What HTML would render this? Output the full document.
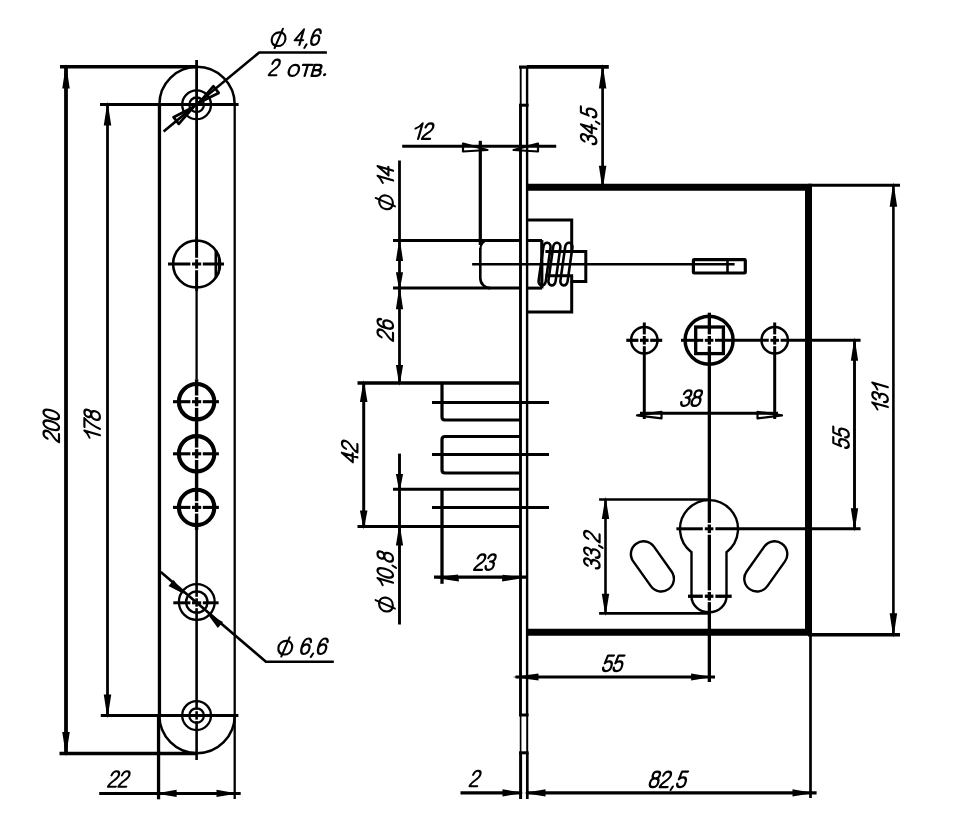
<!DOCTYPE html>
<html><head><meta charset="utf-8"><style>
html,body{margin:0;padding:0;background:#fff;}
svg{display:block;}
text{font-family:"Liberation Sans",sans-serif;fill:#000;stroke:none;}
</style></head><body>
<svg width="959" height="832" viewBox="0 0 959 832">
<rect x="0" y="0" width="959" height="832" fill="#fff"/>
<g stroke="#000" fill="none">
<line x1="159.45" y1="104.5" x2="159.45" y2="715.6" stroke-width="3.3" stroke-linecap="butt"/>
<line x1="158.55" y1="715.6" x2="158.55" y2="799.3" stroke-width="3.3" stroke-linecap="butt"/>
<line x1="234.7" y1="104.5" x2="234.7" y2="799" stroke-width="2.3" stroke-linecap="butt"/>
<path d="M159.4,104.5 A37.65,37.65 0 0 1 234.7,104.5" stroke-width="2.5" fill="none" />
<path d="M159.4,715.6 A37.65,37.65 0 0 0 234.7,715.6" stroke-width="2.5" fill="none" />
<line x1="196.6" y1="60" x2="196.6" y2="237" stroke-width="2.8" stroke-linecap="butt"/>
<line x1="196.6" y1="237" x2="196.6" y2="257.8" stroke-width="3" stroke-linecap="butt"/>
<line x1="196.6" y1="259.4" x2="196.6" y2="268.6" stroke-width="3" stroke-linecap="butt"/>
<line x1="196.6" y1="270.2" x2="196.6" y2="291" stroke-width="3" stroke-linecap="butt"/>
<line x1="196.6" y1="291" x2="196.6" y2="379.2" stroke-width="2.3" stroke-linecap="butt"/>
<line x1="196.6" y1="379.2" x2="196.6" y2="395.5" stroke-width="3.4" stroke-linecap="butt"/>
<line x1="196.6" y1="397.1" x2="196.6" y2="406.3" stroke-width="3.4" stroke-linecap="butt"/>
<line x1="196.6" y1="407.9" x2="196.6" y2="447.6" stroke-width="3.4" stroke-linecap="butt"/>
<line x1="196.6" y1="449.2" x2="196.6" y2="458.4" stroke-width="3.4" stroke-linecap="butt"/>
<line x1="196.6" y1="460.0" x2="196.6" y2="501.2" stroke-width="3.4" stroke-linecap="butt"/>
<line x1="196.6" y1="502.8" x2="196.6" y2="512.0" stroke-width="3.4" stroke-linecap="butt"/>
<line x1="196.6" y1="513.6" x2="196.6" y2="530" stroke-width="3.4" stroke-linecap="butt"/>
<line x1="196.6" y1="530" x2="196.6" y2="596.8" stroke-width="2.6" stroke-linecap="butt"/>
<line x1="196.6" y1="598.3" x2="196.6" y2="606.7" stroke-width="2.6" stroke-linecap="butt"/>
<line x1="196.6" y1="608.2" x2="196.6" y2="709.7" stroke-width="2.6" stroke-linecap="butt"/>
<line x1="196.6" y1="711.2" x2="196.6" y2="719.6" stroke-width="2.6" stroke-linecap="butt"/>
<line x1="196.6" y1="721.1" x2="196.6" y2="760" stroke-width="2.6" stroke-linecap="butt"/>
<line x1="60" y1="66.7" x2="198" y2="66.7" stroke-width="3.5" stroke-linecap="butt"/>
<line x1="59.5" y1="753.4" x2="196" y2="753.4" stroke-width="3.5" stroke-linecap="butt"/>
<line x1="66" y1="66.7" x2="66" y2="753.4" stroke-width="3.8" stroke-linecap="butt"/>
<path d="M66.00,64.00 L69.75,88.50 L62.25,88.50 Z" stroke="none" fill="#000"/>
<path d="M66.00,756.40 L62.25,731.90 L69.75,731.90 Z" stroke="none" fill="#000"/>
<line x1="100" y1="104.4" x2="238.6" y2="104.4" stroke-width="3" stroke-linecap="butt"/>
<line x1="100.8" y1="715.6" x2="238.4" y2="715.6" stroke-width="3" stroke-linecap="butt"/>
<line x1="107.5" y1="104.4" x2="107.5" y2="715.6" stroke-width="2.8" stroke-linecap="butt"/>
<path d="M107.50,101.40 L111.25,125.40 L103.75,125.40 Z" stroke="none" fill="#000"/>
<path d="M107.50,718.60 L103.75,694.60 L111.25,694.60 Z" stroke="none" fill="#000"/>
<circle cx="196.6" cy="104.8" r="14.4" stroke-width="2.3" fill="none"/>
<circle cx="196.6" cy="104.8" r="7.3" stroke-width="2.3" fill="none"/>
<circle cx="196.6" cy="715.6" r="14.4" stroke-width="2.3" fill="none"/>
<circle cx="196.6" cy="715.6" r="7.3" stroke-width="2.3" fill="none"/>
<circle cx="196.6" cy="264" r="23.5" stroke-width="2.6" fill="none"/>
<line x1="215.8" y1="250.5" x2="215.8" y2="277.5" stroke-width="2.6" stroke-linecap="butt"/>
<line x1="218.6" y1="254" x2="218.6" y2="274" stroke-width="1.6" stroke-linecap="butt"/>
<line x1="168" y1="264" x2="190.4" y2="264" stroke-width="3" stroke-linecap="butt"/>
<line x1="192.0" y1="264" x2="201.2" y2="264" stroke-width="3" stroke-linecap="butt"/>
<line x1="202.8" y1="264" x2="224" y2="264" stroke-width="3" stroke-linecap="butt"/>
<circle cx="196.6" cy="401.7" r="17.7" stroke-width="4.1" fill="none"/>
<line x1="173" y1="401.7" x2="190.4" y2="401.7" stroke-width="3.1" stroke-linecap="butt"/>
<line x1="192.0" y1="401.7" x2="201.2" y2="401.7" stroke-width="3.1" stroke-linecap="butt"/>
<line x1="202.8" y1="401.7" x2="218.9" y2="401.7" stroke-width="3.1" stroke-linecap="butt"/>
<circle cx="196.6" cy="453.8" r="17.7" stroke-width="4.1" fill="none"/>
<line x1="173" y1="453.8" x2="190.4" y2="453.8" stroke-width="3.1" stroke-linecap="butt"/>
<line x1="192.0" y1="453.8" x2="201.2" y2="453.8" stroke-width="3.1" stroke-linecap="butt"/>
<line x1="202.8" y1="453.8" x2="218.9" y2="453.8" stroke-width="3.1" stroke-linecap="butt"/>
<circle cx="196.6" cy="507.4" r="17.7" stroke-width="4.1" fill="none"/>
<line x1="173" y1="507.4" x2="190.4" y2="507.4" stroke-width="3.1" stroke-linecap="butt"/>
<line x1="192.0" y1="507.4" x2="201.2" y2="507.4" stroke-width="3.1" stroke-linecap="butt"/>
<line x1="202.8" y1="507.4" x2="218.9" y2="507.4" stroke-width="3.1" stroke-linecap="butt"/>
<circle cx="196.8" cy="602" r="17.9" stroke-width="2.3" fill="none"/>
<circle cx="196.8" cy="602" r="10.7" stroke-width="2.3" fill="none"/>
<line x1="173.3" y1="602.8" x2="190.4" y2="602.8" stroke-width="3" stroke-linecap="butt"/>
<line x1="192.0" y1="602.8" x2="201.2" y2="602.8" stroke-width="3" stroke-linecap="butt"/>
<line x1="202.8" y1="602.8" x2="218.6" y2="602.8" stroke-width="3" stroke-linecap="butt"/>
<path d="M163.6,131.6 L259.2,52.5 L326.9,52.5" stroke-width="2.6" fill="none" />
<path d="M199.50,102.50 L213.44,86.23 L218.67,92.94 Z" stroke-width="2.7" fill="none" stroke-linejoin="round"/>
<path d="M193.50,107.00 L178.77,123.88 L173.54,117.18 Z" stroke-width="2.7" fill="none" stroke-linejoin="round"/>
<path d="M160.8,571.9 L265.9,661.7 L333.8,661.7" stroke-width="2.6" fill="none" />
<path d="M184.00,594.00 L168.48,585.99 L173.68,579.91 Z" stroke="none" fill="#000"/>
<path d="M207.50,614.00 L223.02,622.01 L217.82,628.09 Z" stroke="none" fill="#000"/>
<line x1="99.2" y1="793.4" x2="240.7" y2="793.4" stroke-width="3" stroke-linecap="butt"/>
<path d="M155.60,793.40 L176.60,789.80 L176.60,797.00 Z" stroke="none" fill="#000"/>
<path d="M237.50,793.40 L216.50,797.00 L216.50,789.80 Z" stroke="none" fill="#000"/>
<g transform="translate(269.4,46.5) rotate(0) skewX(-16) scale(1.0,1.0)" stroke-width="2.150" stroke-linecap="round" stroke-linejoin="round" fill="none"><path transform="translate(7.05,-7.35) skewX(9) translate(-7.05,7.35)" d="M7.05,-14.2 C3.1,-14.2 0.2,-11.5 0.2,-7.35 C0.2,-3.2 3.1,-0.5 7.05,-0.5 C11,-0.5 13.9,-3.2 13.9,-7.35 C13.9,-11.5 11,-14.2 7.05,-14.2 Z"/><path transform="translate(0.00,0)" d="M8.4,-17.6 L5.7,1.5"/></g>
<g transform="translate(293.4,44.9) rotate(0) skewX(-16) scale(1.018,1.0)" stroke-width="2.150" stroke-linecap="round" stroke-linejoin="round" fill="none"><path transform="translate(0.00,0)" d="M5.9,0 L5.9,-15.5 L0,-4.7 L8.2,-4.7"/><path transform="translate(10.20,0)" d="M2.5,-0.5 L1.4,2.9"/><path transform="translate(15.80,0)" d="M7.59,-11.8C7.14,-14.4,5.79,-15.5,4.26,-15.5C1.47,-15.5,0.3,-12,0.3,-7.4C0.3,-2.5,1.74,0,4.17,0C6.51,0,7.95,-2,7.95,-4.9C7.95,-7.8,6.33,-9.7,4.26,-9.7C2.28,-9.7,0.75,-8.2,0.39,-5.8"/></g>
<g transform="translate(268.5,75.2) rotate(0) skewX(-16) scale(1.0,1.0)" stroke-width="2.150" stroke-linecap="round" stroke-linejoin="round" fill="none"><path transform="translate(0.00,0)" d="M0.57,-11.4C1.02,-14.4,2.55,-15.5,4.17,-15.5C6.24,-15.5,7.68,-14,7.68,-11.5C7.68,-9,6.06,-7.6,4.17,-6C2.1,-4.2,0.48,-2.4,0.3,0L7.86,0"/></g>
<g transform="translate(287.4,75.9) rotate(0) skewX(-16) scale(1.078,1.0)" stroke-width="2.150" stroke-linecap="round" stroke-linejoin="round" fill="none"><path transform="translate(0.00,0)" d="M4.5,-11 C1.4,-11 0,-8.2 0,-5.5 C0,-2.8 1.4,0 4.5,0 C7.6,0 9,-2.8 9,-5.5 C9,-8.2 7.6,-11 4.5,-11 Z"/><path transform="translate(11.60,0)" d="M0,-11 L8.8,-11 M4.4,-11 L4.4,0"/><path transform="translate(22.00,0)" d="M0.4,0 L0.4,-11 L4.2,-11 C6.2,-11 7.2,-10 7.2,-8.3 C7.2,-6.6 6,-5.8 4.2,-5.8 L0.4,-5.8 M4.2,-5.8 C6.6,-5.8 7.8,-4.6 7.8,-2.9 C7.8,-1 6.6,0 4.4,0 L0.4,0"/><circle cx="34.20" cy="-1.1" r="1.45" fill="#000" stroke="none"/></g>
<g transform="translate(276.1,655.0) rotate(0) skewX(-16) scale(1.0,1.0)" stroke-width="2.150" stroke-linecap="round" stroke-linejoin="round" fill="none"><path transform="translate(7.05,-7.35) skewX(9) translate(-7.05,7.35)" d="M7.05,-14.2 C3.1,-14.2 0.2,-11.5 0.2,-7.35 C0.2,-3.2 3.1,-0.5 7.05,-0.5 C11,-0.5 13.9,-3.2 13.9,-7.35 C13.9,-11.5 11,-14.2 7.05,-14.2 Z"/><path transform="translate(0.00,0)" d="M8.4,-17.6 L5.7,1.5"/></g>
<g transform="translate(299.5,654.0) rotate(0) skewX(-16) scale(1.056,1.0)" stroke-width="2.150" stroke-linecap="round" stroke-linejoin="round" fill="none"><path transform="translate(0.00,0)" d="M7.59,-11.8C7.14,-14.4,5.79,-15.5,4.26,-15.5C1.47,-15.5,0.3,-12,0.3,-7.4C0.3,-2.5,1.74,0,4.17,0C6.51,0,7.95,-2,7.95,-4.9C7.95,-7.8,6.33,-9.7,4.26,-9.7C2.28,-9.7,0.75,-8.2,0.39,-5.8"/><path transform="translate(10.20,0)" d="M2.5,-0.5 L1.4,2.9"/><path transform="translate(15.80,0)" d="M7.59,-11.8C7.14,-14.4,5.79,-15.5,4.26,-15.5C1.47,-15.5,0.3,-12,0.3,-7.4C0.3,-2.5,1.74,0,4.17,0C6.51,0,7.95,-2,7.95,-4.9C7.95,-7.8,6.33,-9.7,4.26,-9.7C2.28,-9.7,0.75,-8.2,0.39,-5.8"/></g>
<g transform="translate(107.7,786.7) rotate(0) skewX(-16) scale(1.021,1.0)" stroke-width="2.150" stroke-linecap="round" stroke-linejoin="round" fill="none"><path transform="translate(0.00,0)" d="M0.57,-11.4C1.02,-14.4,2.55,-15.5,4.17,-15.5C6.24,-15.5,7.68,-14,7.68,-11.5C7.68,-9,6.06,-7.6,4.17,-6C2.1,-4.2,0.48,-2.4,0.3,0L7.86,0"/><path transform="translate(10.20,0)" d="M0.57,-11.4C1.02,-14.4,2.55,-15.5,4.17,-15.5C6.24,-15.5,7.68,-14,7.68,-11.5C7.68,-9,6.06,-7.6,4.17,-6C2.1,-4.2,0.48,-2.4,0.3,0L7.86,0"/></g>
<g transform="translate(412.2,138.9) rotate(0) skewX(-16) scale(1.053,1.0)" stroke-width="2.150" stroke-linecap="round" stroke-linejoin="round" fill="none"><path transform="translate(0.00,0)" d="M5.6,0 L5.6,-15.5 C4.6,-13.2 2.6,-11.4 0.4,-10.4"/><path transform="translate(9.00,0)" d="M0.57,-11.4C1.02,-14.4,2.55,-15.5,4.17,-15.5C6.24,-15.5,7.68,-14,7.68,-11.5C7.68,-9,6.06,-7.6,4.17,-6C2.1,-4.2,0.48,-2.4,0.3,0L7.86,0"/></g>
<g transform="translate(473.8,569.9) rotate(0) skewX(-16) scale(1.03,1.0)" stroke-width="2.150" stroke-linecap="round" stroke-linejoin="round" fill="none"><path transform="translate(0.00,0)" d="M0.57,-11.4C1.02,-14.4,2.55,-15.5,4.17,-15.5C6.24,-15.5,7.68,-14,7.68,-11.5C7.68,-9,6.06,-7.6,4.17,-6C2.1,-4.2,0.48,-2.4,0.3,0L7.86,0"/><path transform="translate(10.20,0)" d="M0.66,-11.8C1.11,-14.5,2.46,-15.5,4.08,-15.5C6.06,-15.5,7.41,-14.2,7.41,-12C7.41,-9.6,5.7,-8.4,3.27,-8.4C6.06,-8.4,7.86,-6.8,7.86,-4.3C7.86,-1.4,6.06,0,3.99,0C1.92,0,0.57,-1.3,0.3,-3.8"/></g>
<g transform="translate(679.9,405.9) rotate(0) skewX(-16) scale(1.055,1.0)" stroke-width="2.150" stroke-linecap="round" stroke-linejoin="round" fill="none"><path transform="translate(0.00,0)" d="M0.66,-11.8C1.11,-14.5,2.46,-15.5,4.08,-15.5C6.06,-15.5,7.41,-14.2,7.41,-12C7.41,-9.6,5.7,-8.4,3.27,-8.4C6.06,-8.4,7.86,-6.8,7.86,-4.3C7.86,-1.4,6.06,0,3.99,0C1.92,0,0.57,-1.3,0.3,-3.8"/><path transform="translate(10.20,0)" d="M3.9,-8.7 C1.9,-8.7 0.6,-10 0.6,-12.1 C0.6,-14.2 2.1,-15.5 3.9,-15.5 C5.7,-15.5 7.2,-14.2 7.2,-12.1 C7.2,-10 5.9,-8.7 3.9,-8.7 C1.5,-8.7 0,-7 0,-4.4 C0,-1.6 1.7,0 3.9,0 C6.1,0 7.8,-1.6 7.8,-4.4 C7.8,-7 6.3,-8.7 3.9,-8.7 Z"/></g>
<g transform="translate(601.8,671.1) rotate(0) skewX(-16) scale(1.035,1.0)" stroke-width="2.150" stroke-linecap="round" stroke-linejoin="round" fill="none"><path transform="translate(0.00,0)" d="M7.41,-15.5L1.65,-15.5L0.75,-7.8C1.65,-9.1,2.91,-9.7,4.26,-9.7C6.51,-9.7,7.95,-7.7,7.95,-4.9C7.95,-1.8,6.24,0,4.08,0C2.01,0,0.66,-1.3,0.3,-3.6"/><path transform="translate(10.20,0)" d="M7.41,-15.5L1.65,-15.5L0.75,-7.8C1.65,-9.1,2.91,-9.7,4.26,-9.7C6.51,-9.7,7.95,-7.7,7.95,-4.9C7.95,-1.8,6.24,0,4.08,0C2.01,0,0.66,-1.3,0.3,-3.6"/></g>
<g transform="translate(648.8,787.1) rotate(0) skewX(-16) scale(1.041,1.0)" stroke-width="2.150" stroke-linecap="round" stroke-linejoin="round" fill="none"><path transform="translate(0.00,0)" d="M3.9,-8.7 C1.9,-8.7 0.6,-10 0.6,-12.1 C0.6,-14.2 2.1,-15.5 3.9,-15.5 C5.7,-15.5 7.2,-14.2 7.2,-12.1 C7.2,-10 5.9,-8.7 3.9,-8.7 C1.5,-8.7 0,-7 0,-4.4 C0,-1.6 1.7,0 3.9,0 C6.1,0 7.8,-1.6 7.8,-4.4 C7.8,-7 6.3,-8.7 3.9,-8.7 Z"/><path transform="translate(10.20,0)" d="M0.57,-11.4C1.02,-14.4,2.55,-15.5,4.17,-15.5C6.24,-15.5,7.68,-14,7.68,-11.5C7.68,-9,6.06,-7.6,4.17,-6C2.1,-4.2,0.48,-2.4,0.3,0L7.86,0"/><path transform="translate(20.40,0)" d="M2.5,-0.5 L1.4,2.9"/><path transform="translate(26.00,0)" d="M7.41,-15.5L1.65,-15.5L0.75,-7.8C1.65,-9.1,2.91,-9.7,4.26,-9.7C6.51,-9.7,7.95,-7.7,7.95,-4.9C7.95,-1.8,6.24,0,4.08,0C2.01,0,0.66,-1.3,0.3,-3.6"/></g>
<g transform="translate(469.3,786.2) rotate(0) skewX(-16) scale(1.0,1.0)" stroke-width="2.150" stroke-linecap="round" stroke-linejoin="round" fill="none"><path transform="translate(0.00,0)" d="M0.57,-11.4C1.02,-14.4,2.55,-15.5,4.17,-15.5C6.24,-15.5,7.68,-14,7.68,-11.5C7.68,-9,6.06,-7.6,4.17,-6C2.1,-4.2,0.48,-2.4,0.3,0L7.86,0"/></g>
<g transform="translate(59.0,442.5) rotate(-90) skewX(-16) scale(1.067,1.0)" stroke-width="2.150" stroke-linecap="round" stroke-linejoin="round" fill="none"><path transform="translate(0.00,0)" d="M0.57,-11.4C1.02,-14.4,2.55,-15.5,4.17,-15.5C6.24,-15.5,7.68,-14,7.68,-11.5C7.68,-9,6.06,-7.6,4.17,-6C2.1,-4.2,0.48,-2.4,0.3,0L7.86,0"/><path transform="translate(10.20,0)" d="M3.8,-15.5 C0.7,-15.5 0,-10.5 0,-7.75 C0,-5 0.7,0 3.8,0 C6.9,0 7.6,-5 7.6,-7.75 C7.6,-10.5 6.9,-15.5 3.8,-15.5 Z"/><path transform="translate(20.40,0)" d="M3.8,-15.5 C0.7,-15.5 0,-10.5 0,-7.75 C0,-5 0.7,0 3.8,0 C6.9,0 7.6,-5 7.6,-7.75 C7.6,-10.5 6.9,-15.5 3.8,-15.5 Z"/></g>
<g transform="translate(99.9,441.0) rotate(-90) skewX(-16) scale(1.048,1.0)" stroke-width="2.150" stroke-linecap="round" stroke-linejoin="round" fill="none"><path transform="translate(0.00,0)" d="M5.6,0 L5.6,-15.5 C4.6,-13.2 2.6,-11.4 0.4,-10.4"/><path transform="translate(9.00,0)" d="M0.2,-15.5 L8.6,-15.5 C5.4,-11.2 3.4,-5.8 2.6,0"/><path transform="translate(19.20,0)" d="M3.9,-8.7 C1.9,-8.7 0.6,-10 0.6,-12.1 C0.6,-14.2 2.1,-15.5 3.9,-15.5 C5.7,-15.5 7.2,-14.2 7.2,-12.1 C7.2,-10 5.9,-8.7 3.9,-8.7 C1.5,-8.7 0,-7 0,-4.4 C0,-1.6 1.7,0 3.9,0 C6.1,0 7.8,-1.6 7.8,-4.4 C7.8,-7 6.3,-8.7 3.9,-8.7 Z"/></g>
<g transform="translate(393.1,186.2) rotate(-90) skewX(-16) scale(1.044,1.0)" stroke-width="2.150" stroke-linecap="round" stroke-linejoin="round" fill="none"><path transform="translate(0.00,0)" d="M5.6,0 L5.6,-15.5 C4.6,-13.2 2.6,-11.4 0.4,-10.4"/><path transform="translate(9.00,0)" d="M5.9,0 L5.9,-15.5 L0,-4.7 L8.2,-4.7"/></g>
<g transform="translate(393.4,211.5) rotate(-90) skewX(-16) scale(1.0,1.0)" stroke-width="2.150" stroke-linecap="round" stroke-linejoin="round" fill="none"><path transform="translate(7.05,-7.35) skewX(9) translate(-7.05,7.35)" d="M7.05,-14.2 C3.1,-14.2 0.2,-11.5 0.2,-7.35 C0.2,-3.2 3.1,-0.5 7.05,-0.5 C11,-0.5 13.9,-3.2 13.9,-7.35 C13.9,-11.5 11,-14.2 7.05,-14.2 Z"/><path transform="translate(0.00,0)" d="M8.4,-17.6 L5.7,1.5"/></g>
<g transform="translate(393.0,341.1) rotate(-90) skewX(-16) scale(1.048,1.0)" stroke-width="2.150" stroke-linecap="round" stroke-linejoin="round" fill="none"><path transform="translate(0.00,0)" d="M0.57,-11.4C1.02,-14.4,2.55,-15.5,4.17,-15.5C6.24,-15.5,7.68,-14,7.68,-11.5C7.68,-9,6.06,-7.6,4.17,-6C2.1,-4.2,0.48,-2.4,0.3,0L7.86,0"/><path transform="translate(10.20,0)" d="M7.59,-11.8C7.14,-14.4,5.79,-15.5,4.26,-15.5C1.47,-15.5,0.3,-12,0.3,-7.4C0.3,-2.5,1.74,0,4.17,0C6.51,0,7.95,-2,7.95,-4.9C7.95,-7.8,6.33,-9.7,4.26,-9.7C2.28,-9.7,0.75,-8.2,0.39,-5.8"/></g>
<g transform="translate(357.4,463.6) rotate(-90) skewX(-16) scale(1.077,1.0)" stroke-width="2.150" stroke-linecap="round" stroke-linejoin="round" fill="none"><path transform="translate(0.00,0)" d="M5.9,0 L5.9,-15.5 L0,-4.7 L8.2,-4.7"/><path transform="translate(10.20,0)" d="M0.57,-11.4C1.02,-14.4,2.55,-15.5,4.17,-15.5C6.24,-15.5,7.68,-14,7.68,-11.5C7.68,-9,6.06,-7.6,4.17,-6C2.1,-4.2,0.48,-2.4,0.3,0L7.86,0"/></g>
<g transform="translate(393.0,588.4) rotate(-90) skewX(-16) scale(1.043,1.0)" stroke-width="2.150" stroke-linecap="round" stroke-linejoin="round" fill="none"><path transform="translate(0.00,0)" d="M5.6,0 L5.6,-15.5 C4.6,-13.2 2.6,-11.4 0.4,-10.4"/><path transform="translate(9.00,0)" d="M3.8,-15.5 C0.7,-15.5 0,-10.5 0,-7.75 C0,-5 0.7,0 3.8,0 C6.9,0 7.6,-5 7.6,-7.75 C7.6,-10.5 6.9,-15.5 3.8,-15.5 Z"/><path transform="translate(19.20,0)" d="M2.5,-0.5 L1.4,2.9"/><path transform="translate(24.80,0)" d="M3.9,-8.7 C1.9,-8.7 0.6,-10 0.6,-12.1 C0.6,-14.2 2.1,-15.5 3.9,-15.5 C5.7,-15.5 7.2,-14.2 7.2,-12.1 C7.2,-10 5.9,-8.7 3.9,-8.7 C1.5,-8.7 0,-7 0,-4.4 C0,-1.6 1.7,0 3.9,0 C6.1,0 7.8,-1.6 7.8,-4.4 C7.8,-7 6.3,-8.7 3.9,-8.7 Z"/></g>
<g transform="translate(393.3,613.7) rotate(-90) skewX(-16) scale(1.0,1.0)" stroke-width="2.150" stroke-linecap="round" stroke-linejoin="round" fill="none"><path transform="translate(7.05,-7.35) skewX(9) translate(-7.05,7.35)" d="M7.05,-14.2 C3.1,-14.2 0.2,-11.5 0.2,-7.35 C0.2,-3.2 3.1,-0.5 7.05,-0.5 C11,-0.5 13.9,-3.2 13.9,-7.35 C13.9,-11.5 11,-14.2 7.05,-14.2 Z"/><path transform="translate(0.00,0)" d="M8.4,-17.6 L5.7,1.5"/></g>
<g transform="translate(596.4,145.4) rotate(-90) skewX(-16) scale(1.033,1.0)" stroke-width="2.150" stroke-linecap="round" stroke-linejoin="round" fill="none"><path transform="translate(0.00,0)" d="M0.66,-11.8C1.11,-14.5,2.46,-15.5,4.08,-15.5C6.06,-15.5,7.41,-14.2,7.41,-12C7.41,-9.6,5.7,-8.4,3.27,-8.4C6.06,-8.4,7.86,-6.8,7.86,-4.3C7.86,-1.4,6.06,0,3.99,0C1.92,0,0.57,-1.3,0.3,-3.8"/><path transform="translate(10.20,0)" d="M5.9,0 L5.9,-15.5 L0,-4.7 L8.2,-4.7"/><path transform="translate(20.40,0)" d="M2.5,-0.5 L1.4,2.9"/><path transform="translate(26.00,0)" d="M7.41,-15.5L1.65,-15.5L0.75,-7.8C1.65,-9.1,2.91,-9.7,4.26,-9.7C6.51,-9.7,7.95,-7.7,7.95,-4.9C7.95,-1.8,6.24,0,4.08,0C2.01,0,0.66,-1.3,0.3,-3.6"/></g>
<g transform="translate(599.6,569.7) rotate(-90) skewX(-16) scale(1.042,1.0)" stroke-width="2.150" stroke-linecap="round" stroke-linejoin="round" fill="none"><path transform="translate(0.00,0)" d="M0.66,-11.8C1.11,-14.5,2.46,-15.5,4.08,-15.5C6.06,-15.5,7.41,-14.2,7.41,-12C7.41,-9.6,5.7,-8.4,3.27,-8.4C6.06,-8.4,7.86,-6.8,7.86,-4.3C7.86,-1.4,6.06,0,3.99,0C1.92,0,0.57,-1.3,0.3,-3.8"/><path transform="translate(10.20,0)" d="M0.66,-11.8C1.11,-14.5,2.46,-15.5,4.08,-15.5C6.06,-15.5,7.41,-14.2,7.41,-12C7.41,-9.6,5.7,-8.4,3.27,-8.4C6.06,-8.4,7.86,-6.8,7.86,-4.3C7.86,-1.4,6.06,0,3.99,0C1.92,0,0.57,-1.3,0.3,-3.8"/><path transform="translate(20.40,0)" d="M2.5,-0.5 L1.4,2.9"/><path transform="translate(26.00,0)" d="M0.57,-11.4C1.02,-14.4,2.55,-15.5,4.17,-15.5C6.24,-15.5,7.68,-14,7.68,-11.5C7.68,-9,6.06,-7.6,4.17,-6C2.1,-4.2,0.48,-2.4,0.3,0L7.86,0"/></g>
<g transform="translate(848.8,449.1) rotate(-90) skewX(-16) scale(1.026,1.0)" stroke-width="2.150" stroke-linecap="round" stroke-linejoin="round" fill="none"><path transform="translate(0.00,0)" d="M7.41,-15.5L1.65,-15.5L0.75,-7.8C1.65,-9.1,2.91,-9.7,4.26,-9.7C6.51,-9.7,7.95,-7.7,7.95,-4.9C7.95,-1.8,6.24,0,4.08,0C2.01,0,0.66,-1.3,0.3,-3.6"/><path transform="translate(10.20,0)" d="M7.41,-15.5L1.65,-15.5L0.75,-7.8C1.65,-9.1,2.91,-9.7,4.26,-9.7C6.51,-9.7,7.95,-7.7,7.95,-4.9C7.95,-1.8,6.24,0,4.08,0C2.01,0,0.66,-1.3,0.3,-3.6"/></g>
<g transform="translate(887.8,412.8) rotate(-90) skewX(-16) scale(1.039,1.0)" stroke-width="2.150" stroke-linecap="round" stroke-linejoin="round" fill="none"><path transform="translate(0.00,0)" d="M5.6,0 L5.6,-15.5 C4.6,-13.2 2.6,-11.4 0.4,-10.4"/><path transform="translate(9.00,0)" d="M0.66,-11.8C1.11,-14.5,2.46,-15.5,4.08,-15.5C6.06,-15.5,7.41,-14.2,7.41,-12C7.41,-9.6,5.7,-8.4,3.27,-8.4C6.06,-8.4,7.86,-6.8,7.86,-4.3C7.86,-1.4,6.06,0,3.99,0C1.92,0,0.57,-1.3,0.3,-3.8"/><path transform="translate(19.20,0)" d="M5.6,0 L5.6,-15.5 C4.6,-13.2 2.6,-11.4 0.4,-10.4"/></g>
<line x1="520.5" y1="105.2" x2="520.5" y2="715" stroke-width="2.9" stroke-linecap="butt"/>
<line x1="520.6" y1="752.8" x2="520.6" y2="799" stroke-width="3" stroke-linecap="butt"/>
<line x1="520.7" y1="66.8" x2="520.7" y2="105.2" stroke-width="1.9" stroke-linecap="butt"/>
<line x1="520.6" y1="715" x2="520.6" y2="752.8" stroke-width="1.7" stroke-linecap="butt"/>
<line x1="527.1" y1="66.8" x2="527.1" y2="715" stroke-width="2.4" stroke-linecap="butt"/>
<line x1="527.2" y1="715" x2="527.2" y2="752.8" stroke-width="2" stroke-linecap="butt"/>
<line x1="527.3" y1="752.8" x2="527.3" y2="799" stroke-width="2.7" stroke-linecap="butt"/>
<line x1="519" y1="67.1" x2="527.5" y2="67.1" stroke-width="3.2" stroke-linecap="butt"/>
<line x1="527" y1="66.8" x2="608.8" y2="66.8" stroke-width="3.8" stroke-linecap="butt"/>
<line x1="519" y1="105.2" x2="528.6" y2="105.2" stroke-width="3" stroke-linecap="butt"/>
<line x1="519" y1="715" x2="528.6" y2="715" stroke-width="3" stroke-linecap="butt"/>
<line x1="519" y1="752.8" x2="528.6" y2="752.8" stroke-width="3" stroke-linecap="butt"/>
<path d="M527,187.3 L808.5,187.3 L808.5,632.3 L527,632.3" stroke-width="7" fill="none" stroke-linejoin="miter"/>
<line x1="602.6" y1="67" x2="602.6" y2="187.3" stroke-width="2.7" stroke-linecap="butt"/>
<path d="M602.60,64.00 L606.35,88.50 L598.85,88.50 Z" stroke="none" fill="#000"/>
<path d="M602.60,190.30 L598.85,165.80 L606.35,165.80 Z" stroke="none" fill="#000"/>
<line x1="808" y1="185.2" x2="900" y2="185.2" stroke-width="3" stroke-linecap="butt"/>
<line x1="808" y1="634.8" x2="900" y2="634.8" stroke-width="3.5" stroke-linecap="butt"/>
<line x1="893.4" y1="185.3" x2="893.4" y2="634.8" stroke-width="2.6" stroke-linecap="butt"/>
<path d="M893.40,182.30 L897.15,206.80 L889.65,206.80 Z" stroke="none" fill="#000"/>
<path d="M893.40,637.80 L889.65,613.30 L897.15,613.30 Z" stroke="none" fill="#000"/>
<line x1="854.5" y1="340.3" x2="854.5" y2="528.8" stroke-width="2.9" stroke-linecap="butt"/>
<path d="M854.50,337.30 L858.15,360.80 L850.85,360.80 Z" stroke="none" fill="#000"/>
<path d="M854.50,531.80 L850.85,508.30 L858.15,508.30 Z" stroke="none" fill="#000"/>
<line x1="810.5" y1="632" x2="810.5" y2="798" stroke-width="2.7" stroke-linecap="butt"/>
<line x1="527" y1="792.9" x2="816.6" y2="792.9" stroke-width="3.2" stroke-linecap="butt"/>
<path d="M524.00,792.90 L545.50,789.25 L545.50,796.55 Z" stroke="none" fill="#000"/>
<path d="M813.50,792.90 L792.50,796.55 L792.50,789.25 Z" stroke="none" fill="#000"/>
<line x1="460.5" y1="792.9" x2="520.5" y2="792.9" stroke-width="3.2" stroke-linecap="butt"/>
<path d="M523.50,792.90 L502.50,796.55 L502.50,789.25 Z" stroke="none" fill="#000"/>
<line x1="709.35" y1="312.7" x2="709.35" y2="334.4" stroke-width="3.3" stroke-linecap="butt"/>
<line x1="709.35" y1="336.0" x2="709.35" y2="344.6" stroke-width="3.3" stroke-linecap="butt"/>
<line x1="709.35" y1="346.2" x2="709.35" y2="522.9" stroke-width="3.3" stroke-linecap="butt"/>
<line x1="709.35" y1="524.5" x2="709.35" y2="533.1" stroke-width="3.3" stroke-linecap="butt"/>
<line x1="709.35" y1="534.7" x2="709.35" y2="590.35" stroke-width="3.3" stroke-linecap="butt"/>
<line x1="709.35" y1="591.95" x2="709.35" y2="600.55" stroke-width="3.3" stroke-linecap="butt"/>
<line x1="709.35" y1="602.15" x2="709.35" y2="682" stroke-width="3.3" stroke-linecap="butt"/>
<line x1="515.5" y1="677" x2="715" y2="677" stroke-width="3.2" stroke-linecap="butt"/>
<path d="M512.50,677.00 L538.50,673.60 L538.50,680.40 Z" stroke="none" fill="#000"/>
<path d="M712.10,677.00 L691.10,680.60 L691.10,673.40 Z" stroke="none" fill="#000"/>
<line x1="402.2" y1="146.3" x2="556.2" y2="146.3" stroke-width="3" stroke-linecap="butt"/>
<path d="M463,143.5 L487.5,150 L463,151.5 Z" stroke-width="2.2" fill="none" stroke-linejoin="round"/>
<path d="M538,143.5 L513.5,150 L538,151.5 Z" stroke-width="2.2" fill="none" stroke-linejoin="round"/>
<line x1="480.3" y1="140.8" x2="480.3" y2="245" stroke-width="3.2" stroke-linecap="butt"/>
<line x1="393" y1="240.5" x2="520.5" y2="240.5" stroke-width="3" stroke-linecap="butt"/>
<line x1="527" y1="240.5" x2="542" y2="240.5" stroke-width="3" stroke-linecap="butt"/>
<line x1="393" y1="288.1" x2="520.5" y2="288.1" stroke-width="3" stroke-linecap="butt"/>
<line x1="527" y1="288.1" x2="542" y2="288.1" stroke-width="3" stroke-linecap="butt"/>
<path d="M480.3,248 L480.3,278 A10,10 0 0 0 490.3,288.1" stroke-width="2.6" fill="none" />
<path d="M480.3,249 A7.5,8.5 0 0 1 487.8,240.5" stroke-width="2.2" fill="none" />
<line x1="472.1" y1="264.2" x2="734.6" y2="264.2" stroke-width="2.6" stroke-linecap="butt"/>
<path d="M527,219.9 L571.7,219.9 L571.7,251.6" stroke-width="3" fill="none" />
<path d="M571.7,281.6 L571.7,312 L527,312" stroke-width="3" fill="none" />
<path d="M541.8,240.1 L541.8,288.4" stroke-width="3.2" fill="none" />
<rect x="541.0" y="242.6" width="7.2" height="43" rx="3.6" ry="4.5" transform="rotate(8 544.6 264)" stroke-width="2.6" fill="none"/>
<rect x="550.8" y="242.6" width="7.2" height="43" rx="3.6" ry="4.5" transform="rotate(8 554.4 264)" stroke-width="2.6" fill="none"/>
<rect x="562.8" y="242.6" width="7.2" height="43" rx="3.6" ry="4.5" transform="rotate(8 566.4 264)" stroke-width="2.6" fill="none"/>
<path d="M545.4,251.6 L585.8,251.6 L585.8,281.6 L571.7,281.6 L571.7,275.8 L545.4,275.8" stroke-width="3" fill="none" />
<rect x="693.4" y="259.6" width="51.9" height="13.4" rx="0.8" stroke-width="3.2" fill="none"/>
<line x1="727.5" y1="259.6" x2="727.5" y2="273" stroke-width="2.6" stroke-linecap="butt"/>
<line x1="399.5" y1="160.5" x2="399.5" y2="383" stroke-width="2.8" stroke-linecap="butt"/>
<path d="M399.50,237.40 L403.10,260.90 L395.90,260.90 Z" stroke="none" fill="#000"/>
<path d="M399.50,291.30 L395.90,272.30 L403.10,272.30 Z" stroke="none" fill="#000"/>
<path d="M399.50,285.30 L403.10,309.30 L395.90,309.30 Z" stroke="none" fill="#000"/>
<path d="M399.50,386.00 L395.90,365.00 L403.10,365.00 Z" stroke="none" fill="#000"/>
<line x1="357.5" y1="383" x2="520" y2="383" stroke-width="3.4" stroke-linecap="butt"/>
<path d="M442,383 L442,417 Q442,420 445,420 L520,420" stroke-width="3.2" fill="none" />
<path d="M520,473 L445,473 Q442,473 442,470 L442,439.5 Q442,436.5 445,436.5 L520,436.5" stroke-width="3.2" fill="none" />
<line x1="393" y1="489.3" x2="520" y2="489.3" stroke-width="3.1" stroke-linecap="butt"/>
<line x1="357.5" y1="526.5" x2="520" y2="526.5" stroke-width="3.1" stroke-linecap="butt"/>
<line x1="442" y1="489.3" x2="442" y2="583.8" stroke-width="3.3" stroke-linecap="butt"/>
<line x1="432" y1="402.4" x2="549" y2="402.4" stroke-width="3" stroke-linecap="butt"/>
<line x1="432" y1="454.6" x2="549" y2="454.6" stroke-width="3" stroke-linecap="butt"/>
<line x1="432" y1="507.5" x2="549" y2="507.5" stroke-width="3" stroke-linecap="butt"/>
<line x1="363.7" y1="383" x2="363.7" y2="526.5" stroke-width="3" stroke-linecap="butt"/>
<path d="M363.70,380.00 L367.50,402.00 L359.90,402.00 Z" stroke="none" fill="#000"/>
<path d="M363.70,529.50 L359.90,510.50 L367.50,510.50 Z" stroke="none" fill="#000"/>
<line x1="399.5" y1="453.6" x2="399.5" y2="624.5" stroke-width="2.9" stroke-linecap="butt"/>
<path d="M399.50,492.40 L395.90,473.90 L403.10,473.90 Z" stroke="none" fill="#000"/>
<path d="M399.50,523.50 L403.10,545.50 L395.90,545.50 Z" stroke="none" fill="#000"/>
<line x1="434" y1="577.1" x2="526" y2="577.1" stroke-width="3.1" stroke-linecap="butt"/>
<path d="M433.8,577.8 L458,574.6 L459,581.4 Z" stroke="none" fill="#000"/>
<path d="M525.8,577.8 L502.5,574.8 L502,581.4 Z" stroke="none" fill="#000"/>
<circle cx="709.1" cy="340.3" r="24" stroke-width="3.5" fill="none"/>
<rect x="695.7" y="327" width="27.7" height="26.6" stroke-width="3.3" fill="none"/>
<line x1="681" y1="340.3" x2="703.2" y2="340.3" stroke-width="3" stroke-linecap="butt"/>
<line x1="704.8" y1="340.3" x2="713.4" y2="340.3" stroke-width="3" stroke-linecap="butt"/>
<line x1="715.0" y1="340.3" x2="768.8" y2="340.3" stroke-width="3" stroke-linecap="butt"/>
<line x1="770.4" y1="340.3" x2="779.0" y2="340.3" stroke-width="3" stroke-linecap="butt"/>
<line x1="780.6" y1="340.3" x2="860.6" y2="340.3" stroke-width="3" stroke-linecap="butt"/>
<circle cx="644.3" cy="340.3" r="13.2" stroke-width="2.5" fill="none"/>
<line x1="644.3" y1="322.5" x2="644.3" y2="334.4" stroke-width="3" stroke-linecap="butt"/>
<line x1="644.3" y1="336.0" x2="644.3" y2="344.6" stroke-width="3" stroke-linecap="butt"/>
<line x1="644.3" y1="346.2" x2="644.3" y2="419" stroke-width="3" stroke-linecap="butt"/>
<circle cx="774.7" cy="340.3" r="13.2" stroke-width="2.5" fill="none"/>
<line x1="774.7" y1="322.5" x2="774.7" y2="334.4" stroke-width="3" stroke-linecap="butt"/>
<line x1="774.7" y1="336.0" x2="774.7" y2="344.6" stroke-width="3" stroke-linecap="butt"/>
<line x1="774.7" y1="346.2" x2="774.7" y2="419" stroke-width="3" stroke-linecap="butt"/>
<line x1="626.3" y1="340.3" x2="638.4" y2="340.3" stroke-width="3.2" stroke-linecap="butt"/>
<line x1="640.0" y1="340.3" x2="648.6" y2="340.3" stroke-width="3.2" stroke-linecap="butt"/>
<line x1="650.2" y1="340.3" x2="662.2" y2="340.3" stroke-width="3.2" stroke-linecap="butt"/>
<line x1="640" y1="413.3" x2="778" y2="413.3" stroke-width="3" stroke-linecap="butt"/>
<path d="M661.5,411.8 L637,415.4 L661.5,418.3 Z" stroke-width="2.2" fill="none" stroke-linejoin="round"/>
<path d="M757.5,411.8 L782,415.4 L757.5,418.3 Z" stroke-width="2.2" fill="none" stroke-linejoin="round"/>
<path d="M691.5,552.2 A29,29 0 1 1 726.5,552.2 L726.5,596.25 A17.5,16 0 0 1 691.5,596.25 Z" stroke-width="2.4" fill="none" />
<line x1="676.4" y1="528.8" x2="702.8" y2="528.8" stroke-width="3" stroke-linecap="butt"/>
<line x1="704.8" y1="528.8" x2="713.4" y2="528.8" stroke-width="3" stroke-linecap="butt"/>
<line x1="715.4" y1="528.8" x2="860.6" y2="528.8" stroke-width="3" stroke-linecap="butt"/>
<line x1="688" y1="596.25" x2="702.8" y2="596.25" stroke-width="3.3" stroke-linecap="butt"/>
<line x1="704.8" y1="596.25" x2="713.4" y2="596.25" stroke-width="3.3" stroke-linecap="butt"/>
<line x1="715.4" y1="596.25" x2="731.7" y2="596.25" stroke-width="3.3" stroke-linecap="butt"/>
<rect x="624.50" y="553.70" width="55.8" height="25.4" rx="12.7" transform="rotate(54.6 652.40 566.4)" stroke-width="2.4" fill="none"/>
<rect x="737.90" y="553.70" width="55.8" height="25.4" rx="12.7" transform="rotate(-54.6 765.80 566.4)" stroke-width="2.4" fill="none"/>
<line x1="599.1" y1="499.5" x2="709" y2="499.5" stroke-width="2.7" stroke-linecap="butt"/>
<line x1="599.1" y1="613.3" x2="709" y2="613.3" stroke-width="2.7" stroke-linecap="butt"/>
<line x1="605.5" y1="499.5" x2="605.5" y2="613.2" stroke-width="2.6" stroke-linecap="butt"/>
<path d="M605.50,496.50 L609.20,519.00 L601.80,519.00 Z" stroke="none" fill="#000"/>
<path d="M605.50,616.20 L601.80,593.70 L609.20,593.70 Z" stroke="none" fill="#000"/>
</g>
</svg>
</body></html>
